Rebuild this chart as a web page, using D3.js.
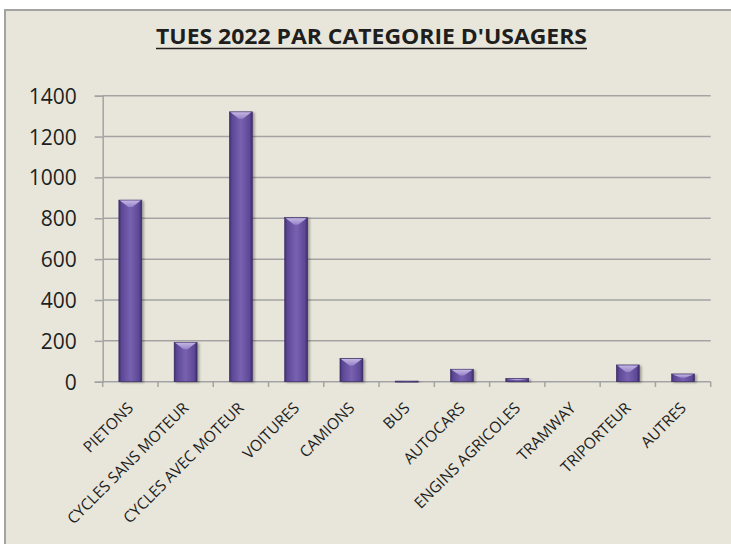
<!DOCTYPE html>
<html>
<head>
<meta charset="utf-8">
<script src="https://cdn.jsdelivr.net/npm/d3@7"></script>
<style>
  body { margin: 0; background: #fff; }
  svg { display: block; }
  .ylab { font-family: "Open Sans", sans-serif; font-size: 21px; fill: #1e1e1e; }
  .xlab { font-family: "Open Sans", sans-serif; font-size: 15.5px; fill: #1e1e1e; }
  .title { font-family: "Open Sans", sans-serif; font-size: 22px; font-weight: bold; fill: #1e1e1e; }
</style>
</head>
<body>
<div id="chart"></div>
<script>
/************************************ Data *******************************/
var categories = ["PIETONS", "CYCLES SANS MOTEUR", "CYCLES AVEC MOTEUR", "VOITURES", "CAMIONS",
                  "BUS", "AUTOCARS", "ENGINS AGRICOLES", "TRAMWAY", "TRIPORTEUR", "AUTRES"];
var tues = [889, 193, 1321, 803, 114, 3, 61, 16, 0, 82, 38];
var yTicks = [0, 200, 400, 600, 800, 1000, 1200, 1400];
var titleText = "TUES 2022 PAR CATEGORIE D'USAGERS";

/************************************ Setup *******************************/
var W = 731, H = 544;
var svg = d3.select("#chart").append("svg").attr("width", W).attr("height", H);

var defs = svg.append("defs");
var grad = defs.append("linearGradient").attr("id", "barGrad")
	.attr("x1", "0").attr("x2", "1").attr("y1", "0").attr("y2", "0");
grad.append("stop").attr("offset", "0").attr("stop-color", "#3f2f6e");
grad.append("stop").attr("offset", "0.12").attr("stop-color", "#5d4897");
grad.append("stop").attr("offset", "0.5").attr("stop-color", "#7862b0");
grad.append("stop").attr("offset", "0.88").attr("stop-color", "#5d4897");
grad.append("stop").attr("offset", "1").attr("stop-color", "#3a2a66");

var capGrad = defs.append("linearGradient").attr("id", "capGrad")
	.attr("x1", "0").attr("x2", "0").attr("y1", "0").attr("y2", "1");
capGrad.append("stop").attr("offset", "0").attr("stop-color", "#c3b6e2");
capGrad.append("stop").attr("offset", "1").attr("stop-color", "#9683c7");

var shadow = defs.append("filter").attr("id", "shadow")
	.attr("x", "-20%").attr("y", "-20%").attr("width", "150%").attr("height", "150%");
shadow.append("feDropShadow").attr("dx", 2).attr("dy", 1).attr("stdDeviation", 1.2)
	.attr("flood-color", "#000").attr("flood-opacity", 0.3);

// chart background / frame (right and bottom edges fall outside the window)
svg.append("rect")
	.attr("x", 5).attr("y", 10).attr("width", W + 20).attr("height", H + 20)
	.attr("fill", "#e8e6da").attr("stroke", "#a3a3a3").attr("stroke-width", 2);

/************************************ Title *******************************/
svg.append("text").attr("class", "title")
	.attr("x", 371.5).attr("y", 44)
	.attr("text-anchor", "middle")
	.attr("textLength", 431).attr("lengthAdjust", "spacingAndGlyphs")
	.text(titleText);
svg.append("line")
	.attr("x1", 156).attr("x2", 587).attr("y1", 48.5).attr("y2", 48.5)
	.attr("stroke", "#1e1e1e").attr("stroke-width", 1.5);

/************************************ Scales *******************************/
var x = d3.scaleBand().domain(categories).range([102.7, 710.7])
	.paddingInner(0.585).paddingOuter(0.2925);
var xStep = d3.scaleBand().domain(categories).range([102.7, 710.7]);
var y = d3.scaleLinear().domain([0, 1400]).range([381.7, 95.7]);

/************************************ Grid & axes *******************************/
svg.append("g").selectAll("line").data(yTicks.filter(function(d){ return d > 0; }))
	.join("line")
	.attr("x1", 102.7).attr("x2", 710.7)
	.attr("y1", function(d){ return y(d); }).attr("y2", function(d){ return y(d); })
	.attr("stroke", "#a3a3a3").attr("stroke-width", 1.5);

var yAxis = svg.append("g").attr("transform", "translate(102.7,0)")
	.call(d3.axisLeft(y).tickValues(yTicks).tickFormat(d3.format("d")).tickSize(8).tickPadding(18));
yAxis.select(".domain").attr("stroke", "#a3a3a3").attr("stroke-width", 1.5);
yAxis.selectAll(".tick line").attr("stroke", "#a3a3a3").attr("stroke-width", 1.5);
yAxis.selectAll(".tick text").attr("class", "ylab").attr("fill", null).attr("dy", "0.36em");

// x axis: ticks at category boundaries
var bounds = categories.map(function(c){ return xStep(c); }).concat([710.7]);
var xAxis = svg.append("g");
xAxis.append("line").attr("x1", 102.7).attr("x2", 710.7).attr("y1", 381.7).attr("y2", 381.7)
	.attr("stroke", "#a3a3a3").attr("stroke-width", 1.5);
xAxis.selectAll("line.tk").data(bounds).join("line").attr("class", "tk")
	.attr("x1", function(d){ return d; }).attr("x2", function(d){ return d; })
	.attr("y1", 381.7).attr("y2", 387)
	.attr("stroke", "#a3a3a3").attr("stroke-width", 1.5);

xAxis.selectAll("text").data(categories).join("text").attr("class", "xlab")
	.attr("text-anchor", "end")
	.attr("transform", function(d){
		return "translate(" + (xStep(d) + xStep.bandwidth() / 2 + 4) + ",409) rotate(-45)";
	})
	.text(function(d){ return d; });

/************************************ Bars *******************************/
var data = categories.map(function(c, i){ return {cat: c, v: tues[i]}; });
var bars = svg.append("g").selectAll("g").data(data.filter(function(d){ return d.v > 0; }))
	.join("g").attr("filter", "url(#shadow)");

bars.append("rect")
	.attr("x", function(d){ return x(d.cat); })
	.attr("y", function(d){ return y(d.v); })
	.attr("width", x.bandwidth())
	.attr("height", function(d){ return Math.max(1, y(0) - y(d.v)); })
	.attr("fill", "url(#barGrad)")
	.attr("stroke", "#3a2b63").attr("stroke-width", 0.6);

bars.append("path")
	.attr("fill", "url(#capGrad)")
	.attr("d", function(d){
		var x0 = x(d.cat), w = x.bandwidth(), t = y(d.v);
		var h = y(0) - t;
		var b = Math.min(7, h / 2);
		if (h < 2) return "";
		return "M" + (x0 + 1) + "," + (t + 0.5) + "L" + (x0 + w - 1) + "," + (t + 0.5) +
			"L" + (x0 + w / 2 + 2) + "," + (t + b) + "L" + (x0 + w / 2 - 2) + "," + (t + b) + "Z";
	});
</script>
</body>
</html>
